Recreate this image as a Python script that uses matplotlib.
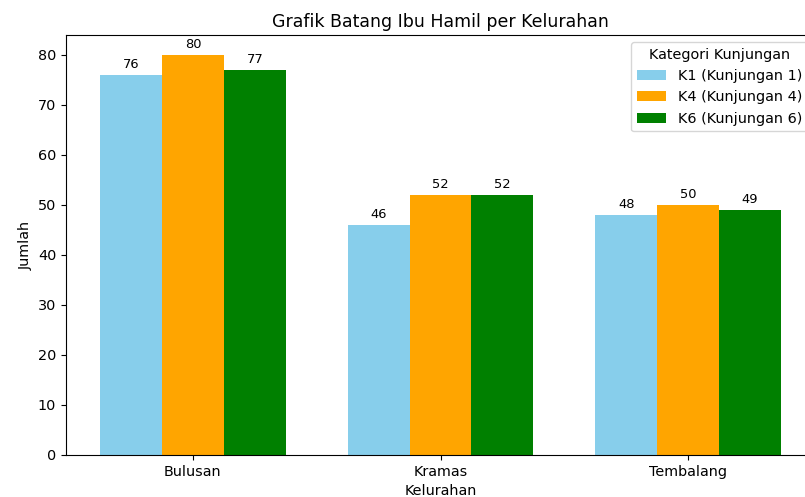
import numpy as np
import matplotlib
matplotlib.use("Agg")
import matplotlib.pyplot as plt

# Data
kelurahan = ["Bulusan", "Kramas", "Tembalang"]
k1 = [76, 46, 48]
k4 = [80, 52, 50]
k6 = [77, 52, 49]
labels = ["K1 (Kunjungan 1)", "K4 (Kunjungan 4)", "K6 (Kunjungan 6)"]
colors = ["skyblue", "orange", "green"]

plt.rcParams["font.size"] = 10.4

x = np.arange(len(kelurahan))
width = 0.25

fig = plt.figure(figsize=(8.05, 4.97), dpi=100)
# axes run past the right edge of the picture, as in the reference
ax = fig.add_axes([66 / 805, 42 / 497, 749 / 805, 420 / 497])

for i, (vals, lab, col) in enumerate(zip([k1, k4, k6], labels, colors)):
    bars = ax.bar(x + (i - 1) * width, vals, width, label=lab, color=col)
    ax.bar_label(bars, padding=3, fontsize=9.4)

ax.set_xticks(x)
ax.set_xticklabels(kelurahan)
ax.set_xlabel("Kelurahan")
ax.set_ylabel("Jumlah")
ax.set_title("Grafik Batang Ibu Hamil per Kelurahan")
ax.legend(title="Kategori Kunjungan", loc="upper right")

fig.savefig("out.png", dpi=100)
